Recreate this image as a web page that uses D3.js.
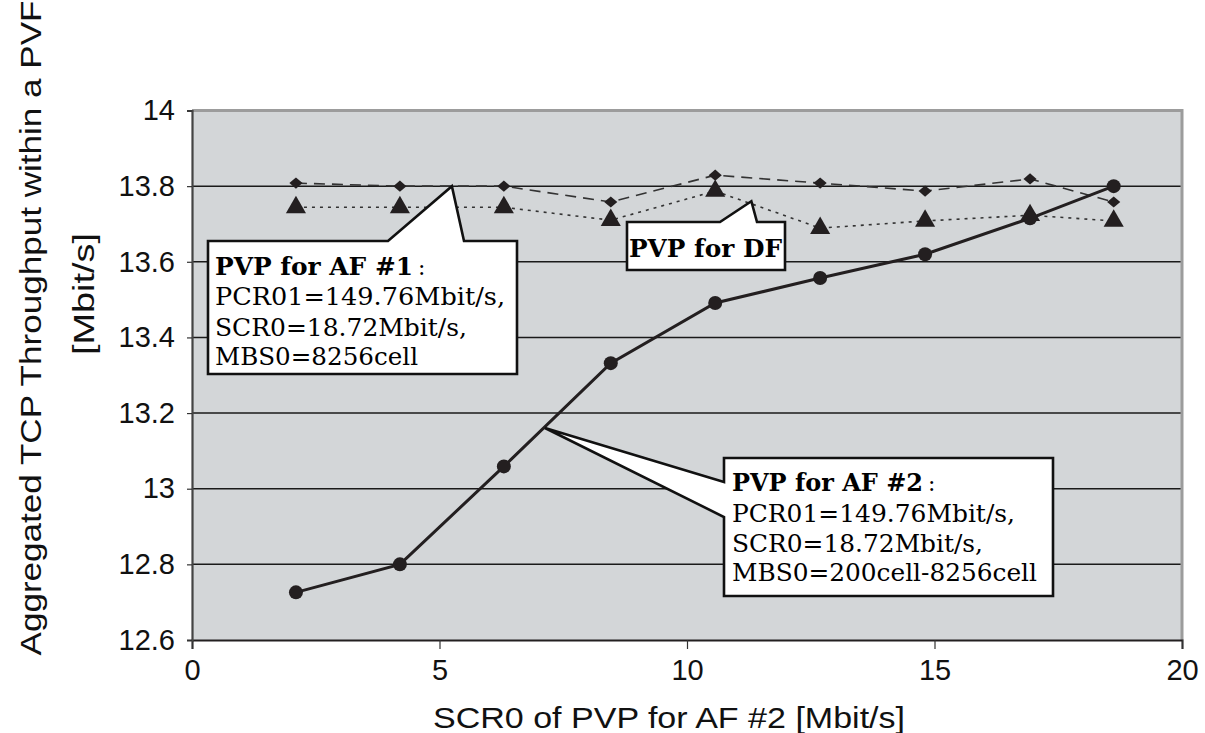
<!DOCTYPE html>
<html>
<head>
<meta charset="utf-8">
<script src="https://cdn.jsdelivr.net/npm/d3@7/dist/d3.min.js"></script>
<style>
  html, body { margin: 0; padding: 0; background: #fff; }
  svg { display: block; }
</style>
</head>
<body>
<svg id="chart" width="1205" height="733"></svg>
<script>
// SCR0 settings of the AF #2 PVP (Mbit/s)
const scr0 = [2.1, 4.2, 6.3, 8.46, 10.57, 12.69, 14.81, 16.93, 18.62];
// Aggregated TCP throughput per PVP (Mbit/s)
const pvpAF2 = [12.726, 12.80, 13.059, 13.332, 13.491, 13.557, 13.620, 13.715, 13.80];
const pvpAF1 = [13.808, 13.80, 13.80, 13.758, 13.829, 13.808, 13.787, 13.819, 13.758];
const pvpDF  = [13.744, 13.744, 13.744, 13.71, 13.787, 13.689, 13.708, 13.723, 13.708];

const xTicks = [0, 5, 10, 15, 20];
const yTicks = [12.6, 12.8, 13, 13.2, 13.4, 13.6, 13.8, 14];

const xTitle = "SCR0 of PVP for AF #2 [Mbit/s]";
const yTitle = ["Aggregated TCP Throughput within a PVF", "[Mbit/s]"];

const svg = d3.select("#chart");
const W = 1205, H = 733;
const m = { left: 192, right: 23, top: 110.5, bottom: 93 };
const x = d3.scaleLinear().domain([0, 20]).range([m.left, W - m.right]);
const y = d3.scaleLinear().domain([12.6, 14]).range([H - m.bottom, m.top]);

const ink = "#231f20";
const sans = "'Liberation Sans', Arial, sans-serif";
const serif = "'DejaVu Serif', 'Liberation Serif', serif";

// plot background
svg.append("rect")
  .attr("x", x(0)).attr("y", y(14))
  .attr("width", x(20) - x(0)).attr("height", y(12.6) - y(14))
  .attr("fill", "#d3d6d8");

// horizontal gridlines
svg.append("g").selectAll("line")
  .data(yTicks.filter(v => v > 12.6 && v < 14))
  .join("line")
  .attr("x1", x(0)).attr("x2", x(20))
  .attr("y1", d => y(d)).attr("y2", d => y(d))
  .attr("stroke", "#1a1a1a").attr("stroke-width", 1.5);

// grey frame on top and right
svg.append("path")
  .attr("d", `M${x(0)},${y(14)}H${x(20)}V${y(12.6)}`)
  .attr("fill", "none").attr("stroke", "#9c9c9c").attr("stroke-width", 3);

// axes
const xAxis = d3.axisBottom(x).tickValues(xTicks).tickSize(9).tickPadding(10)
  .tickFormat(d3.format("d"));
const gx = svg.append("g").attr("transform", `translate(0,${y(12.6)})`).call(xAxis);
gx.select(".domain").attr("stroke", ink).attr("stroke-width", 2);
gx.selectAll(".tick line").attr("stroke", "#333").attr("stroke-width", 1.2);
gx.selectAll("text").attr("font-family", sans).attr("font-size", 29).attr("fill", "#111");

const yAxis = d3.axisLeft(y).tickValues(yTicks).tickSize(5).tickPadding(12)
  .tickFormat(d => d3.format("")(+d.toFixed(1)));
const gy = svg.append("g").attr("transform", `translate(${x(0)},0)`).call(yAxis);
gy.select(".domain").attr("stroke", "#444").attr("stroke-width", 2.2);
gy.selectAll(".tick line").attr("stroke", "#333").attr("stroke-width", 1.2);
gy.selectAll("text").attr("font-family", sans).attr("font-size", 29).attr("fill", "#111");

// axis titles
svg.append("text")
  .attr("x", (x(0) + x(20)) / 2 - 18).attr("y", 728)
  .attr("text-anchor", "middle")
  .attr("font-family", sans).attr("font-size", 29).attr("fill", "#111")
  .attr("textLength", 472).attr("lengthAdjust", "spacingAndGlyphs")
  .text(xTitle);

svg.append("text")
  .attr("transform", "translate(41,328) rotate(-90)")
  .attr("text-anchor", "middle")
  .attr("font-family", sans).attr("font-size", 29).attr("fill", "#111")
  .attr("textLength", 655).attr("lengthAdjust", "spacingAndGlyphs")
  .text(yTitle[0]);
svg.append("text")
  .attr("transform", "translate(94,294) rotate(-90)")
  .attr("text-anchor", "middle")
  .attr("font-family", sans).attr("font-size", 29).attr("fill", "#111")
  .attr("textLength", 122).attr("lengthAdjust", "spacingAndGlyphs")
  .text(yTitle[1]);

// series lines
const rows = s => scr0.map((v, i) => [v, s[i]]);
const line = d3.line().x(d => x(d[0])).y(d => y(d[1]));

svg.append("path").datum(rows(pvpAF1)).attr("d", line)
  .attr("fill", "none").attr("stroke", "#333").attr("stroke-width", 1.6)
  .attr("stroke-dasharray", "11,7");
svg.append("path").datum(rows(pvpDF)).attr("d", line)
  .attr("fill", "none").attr("stroke", "#333").attr("stroke-width", 1.6)
  .attr("stroke-dasharray", "3,5");
svg.append("path").datum(rows(pvpAF2)).attr("d", line)
  .attr("fill", "none").attr("stroke", ink).attr("stroke-width", 3);

// markers
svg.append("g").selectAll("path").data(rows(pvpAF1)).join("path")
  .attr("transform", d => `translate(${x(d[0])},${y(d[1])}) scale(1,0.85)`)
  .attr("d", d3.symbol(d3.symbolDiamond2, 110))
  .attr("fill", ink);
svg.append("g").selectAll("path").data(rows(pvpDF)).join("path")
  .attr("transform", d => `translate(${x(d[0])},${y(d[1])})`)
  .attr("d", d3.symbol(d3.symbolTriangle, 175))
  .attr("fill", ink);
svg.append("g").selectAll("circle").data(rows(pvpAF2)).join("circle")
  .attr("cx", d => x(d[0])).attr("cy", d => y(d[1])).attr("r", 7)
  .attr("fill", ink);

// callouts, placed in data units
function callout(box, pts, lines) {
  const x0 = x(box[0]), x1 = x(box[1]), y0 = y(box[2]), y1 = y(box[3]);
  const p = pts.map(q => [x(q[0]), y(q[1])]);
  let d;
  if (p.length === 3 && Math.abs(p[0][1] - y0) < 1) {
    // pointer leaving the top edge
    d = `M${x0},${y0}H${p[0][0]}L${p[1][0]},${p[1][1]}L${p[2][0]},${y0}H${x1}V${y1}H${x0}Z`;
  } else {
    // pointer leaving the left edge
    d = `M${x0},${y0}H${x1}V${y1}H${x0}V${p[2][1]}L${p[1][0]},${p[1][1]}L${x0},${p[0][1]}Z`;
  }
  svg.append("path").attr("d", d)
    .attr("fill", "#fff").attr("stroke", "#111").attr("stroke-width", 2.6)
    .attr("stroke-linejoin", "miter");
  lines.forEach(l => {
    svg.append("text")
      .attr("x", l.x).attr("y", l.y)
      .attr("font-family", serif).attr("font-size", 24)
      .attr("font-weight", l.bold ? "bold" : "normal")
      .attr("fill", "#000")
      .attr("textLength", l.w).attr("lengthAdjust", "spacingAndGlyphs")
      .text(l.t);
    if (l.colon) {
      svg.append("text")
        .attr("x", l.x + l.w + 5).attr("y", l.y)
        .attr("font-family", serif).attr("font-size", 22).attr("fill", "#000")
        .text(":");
    }
  });
}

// AF #1 callout
callout(
  [(208 - 192) / 49.5, (517 - 192) / 49.5, y.invert(241), y.invert(374)],
  [[(388 - 192) / 49.5, y.invert(241)], [5.25, 13.8], [(464 - 192) / 49.5, y.invert(241)]],
  [
    { t: "PVP for AF #1", x: 215, y: 275, w: 198, bold: true, colon: true },
    { t: "PCR01=149.76Mbit/s,", x: 215, y: 305, w: 290 },
    { t: "SCR0=18.72Mbit/s,", x: 215, y: 336, w: 252 },
    { t: "MBS0=8256cell", x: 215, y: 365, w: 203 }
  ]
);

// DF callout
callout(
  [(627 - 192) / 49.5, (785 - 192) / 49.5, y.invert(222), y.invert(270)],
  [[(720 - 192) / 49.5, y.invert(222)], [11.3, 13.76], [(757 - 192) / 49.5, y.invert(222)]],
  [
    { t: "PVP for DF", x: 629, y: 257, w: 153, bold: true }
  ]
);

// AF #2 callout
callout(
  [(724 - 192) / 49.5, (1053 - 192) / 49.5, y.invert(458), y.invert(596)],
  [[(724 - 192) / 49.5, y.invert(482)], [(545 - 192) / 49.5, y.invert(428)], [(724 - 192) / 49.5, y.invert(517)]],
  [
    { t: "PVP for AF #2", x: 732, y: 491, w: 191, bold: true, colon: true },
    { t: "PCR01=149.76Mbit/s,", x: 732, y: 522, w: 283 },
    { t: "SCR0=18.72Mbit/s,", x: 732, y: 552, w: 251 },
    { t: "MBS0=200cell-8256cell", x: 732, y: 581, w: 305 }
  ]
);
</script>
</body>
</html>
